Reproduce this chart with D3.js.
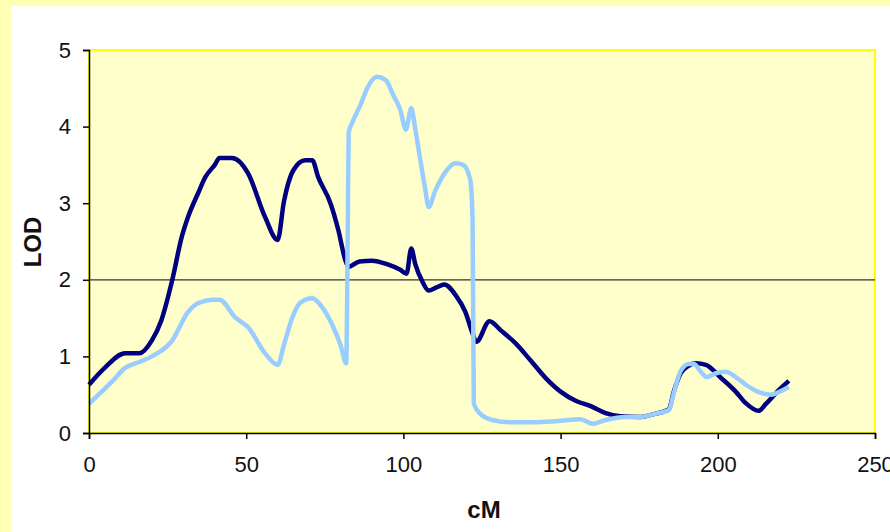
<!DOCTYPE html>
<html>
<head>
<meta charset="utf-8">
<script src="https://cdn.jsdelivr.net/npm/d3@7"></script>
<style>
  html, body { margin: 0; padding: 0; background: #FFFFB3; }
  #chart { width: 890px; height: 532px; }
  text { font-family: "Liberation Sans", Arial, sans-serif; fill: #111; }
</style>
</head>
<body>
<div id="chart"></div>
<script>
// LOD profiles along the chromosome (cM, LOD)
let darkCM  = [0, 5, 11.5, 16, 20, 23, 26.5, 29.5, 31.5, 34.7, 37, 40, 41.5, 45.5, 50.6, 56, 60, 62, 65, 68.8, 71, 72.9, 76.8, 79.3, 81.5,
    82.5, 86, 90, 95, 99, 101, 102.5, 103.8, 106, 108, 110.5, 113, 116.6, 119.7, 122, 123.2, 127.4, 131, 135.7, 140.4, 145.2,
    150, 154.8, 159.6, 164.3, 169, 175.5, 180, 184.4, 186, 188.2, 190.4, 193, 196.2, 201, 205.7, 208.9, 213, 215.3, 219.4, 222.6];
let darkLOD = [0.63, 0.85, 1.04, 1.04, 1.21, 1.47, 2.0, 2.56, 2.82, 3.13, 3.34, 3.5, 3.59, 3.59, 3.39, 2.82, 2.52, 3.02, 3.43, 3.56, 3.56, 3.34, 3.0, 2.65, 2.26,
    2.17, 2.24, 2.25, 2.2, 2.13, 2.08, 2.41, 2.2, 1.98, 1.86, 1.9, 1.94, 1.8, 1.58, 1.3, 1.19, 1.46, 1.34, 1.17, 0.95, 0.72,
    0.54, 0.42, 0.35, 0.26, 0.22, 0.21, 0.25, 0.31, 0.54, 0.78, 0.87, 0.91, 0.89, 0.72, 0.54, 0.39, 0.29, 0.38, 0.56, 0.68];

let lightCM  = [0, 3.5, 7.3, 11.5, 16.2, 20, 26.5, 31.5, 35, 39.5, 41.5, 46.5, 50.6, 56, 60, 62, 64.6, 67.2, 71, 74.2, 77.4, 80, 81.8,
    82.3, 82.6, 83.8, 86.3, 88.5, 91.5, 94.3, 96.8, 99, 100.8, 102.5, 103.8, 105.4, 107, 108, 110.2, 113.4, 116.6, 119, 121.3, 122,
    122.4, 124.5, 128.3, 134, 140.4, 150, 156.4, 160.2, 164.3, 170.7, 175.5, 180, 184.4, 186, 188.2, 190.8, 192.4, 194.6, 196.5,
    199.4, 202.5, 205.7, 208.9, 212.7, 216.9, 219.7, 222.6];
let lightLOD = [0.38, 0.52, 0.67, 0.85, 0.93, 1.0, 1.21, 1.58, 1.7, 1.74, 1.74, 1.51, 1.38, 1.04, 0.89, 1.15, 1.5, 1.7, 1.76, 1.64, 1.41, 1.15, 0.91,
    2.65, 3.92, 4.06, 4.28, 4.5, 4.65, 4.61, 4.41, 4.22, 3.96, 4.24, 3.96, 3.56, 3.17, 2.95, 3.17, 3.41, 3.52, 3.5, 3.3, 2.78,
    0.38, 0.25, 0.17, 0.14, 0.14, 0.16, 0.18, 0.12, 0.17, 0.21, 0.21, 0.25, 0.3, 0.52, 0.81, 0.9, 0.9, 0.8, 0.73,
    0.78, 0.8, 0.73, 0.63, 0.54, 0.5, 0.54, 0.6];

let xTicks = [0, 50, 100, 150, 200, 250];
let yTicks = [0, 1, 2, 3, 4, 5];
let threshold = 2;

// Set the dimensions and margins of the graph
let width = 890;
let height = 532;
let margin = { top: 50, right: 15, bottom: 99, left: 89 };

let svg = d3.select('#chart')
    .append('svg')
    .attr('width', width)
    .attr('height', height);

// White panel behind the chart
svg.append('rect')
    .attr('x', 11)
    .attr('y', 6)
    .attr('width', width - 11)
    .attr('height', height - 6)
    .attr('fill', '#ffffff');

let x = d3.scaleLinear()
    .domain([0, 250])
    .range([margin.left, width - margin.right]);

let y = d3.scaleLinear()
    .domain([0, 5])
    .range([height - margin.bottom, margin.top]);

// Plot area
svg.append('rect')
    .attr('x', x(0))
    .attr('y', y(5))
    .attr('width', x(250) - x(0))
    .attr('height', y(0) - y(5))
    .attr('fill', '#FFFFCC')
    .attr('stroke', '#FFFF00')
    .attr('stroke-width', 2);

// Threshold line
svg.append('line')
    .attr('x1', x(0))
    .attr('x2', x(250))
    .attr('y1', y(threshold))
    .attr('y2', y(threshold))
    .attr('stroke', '#333')
    .attr('stroke-width', 1.3);

let line = d3.line()
    .curve(d3.curveMonotoneX)
    .x(function(d) { return x(d[0]); })
    .y(function(d) { return y(d[1]); });

let darkData = darkCM.map(function(c, i) { return [c, darkLOD[i]]; });
let lightData = lightCM.map(function(c, i) { return [c, lightLOD[i]]; });

svg.append('path')
    .datum(darkData)
    .attr('d', line)
    .attr('fill', 'none')
    .attr('stroke', '#000080')
    .attr('stroke-width', 4.5)
    .attr('stroke-linejoin', 'round');

svg.append('path')
    .datum(lightData)
    .attr('d', line)
    .attr('fill', 'none')
    .attr('stroke', '#99CCFF')
    .attr('stroke-width', 4.5)
    .attr('stroke-linejoin', 'round');

// Axes
let xAxis = svg.append('g')
    .attr('transform', 'translate(0,' + y(0) + ')')
    .call(d3.axisBottom(x).tickValues(xTicks).tickFormat(d3.format('d')).tickSize(6).tickPadding(17));

let yAxis = svg.append('g')
    .attr('transform', 'translate(' + x(0) + ',0)')
    .call(d3.axisLeft(y).tickValues(yTicks).tickFormat(d3.format('d')).tickSize(6).tickPadding(12));

[xAxis, yAxis].forEach(function(a) {
    a.select('.domain').attr('stroke', '#000').attr('stroke-width', 1.5);
    a.selectAll('.tick line').attr('stroke', '#000').attr('stroke-width', 1.5);
    a.selectAll('.tick text')
        .style('font-family', '"Liberation Sans", Arial, sans-serif')
        .style('font-size', '22px')
        .attr('fill', '#222');
});

// Axis titles
svg.append('text')
    .attr('x', x(125) + 2)
    .attr('y', 518)
    .attr('text-anchor', 'middle')
    .style('font-size', '24px')
    .style('font-weight', 'bold')
    .text('cM');

svg.append('text')
    .attr('transform', 'translate(41,' + 242 + ') rotate(-90)')
    .attr('text-anchor', 'middle')
    .style('font-size', '24px')
    .style('font-weight', 'bold')
    .text('LOD');
</script>
</body>
</html>
